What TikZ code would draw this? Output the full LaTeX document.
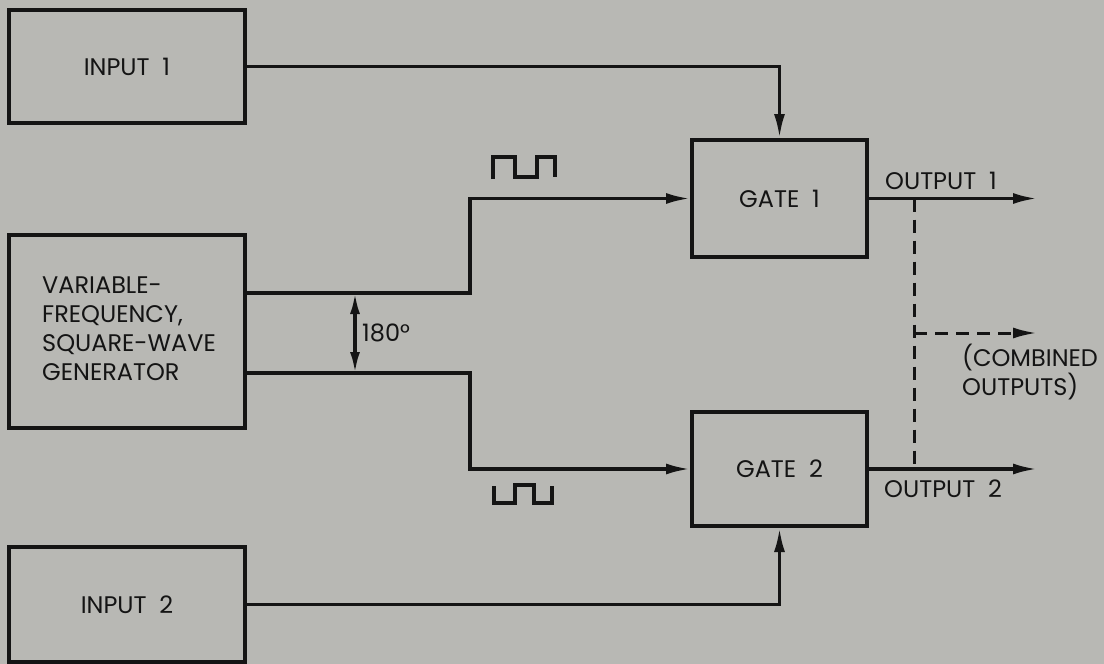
\documentclass[tikz,border=0pt]{standalone}
\usepackage{fontspec}
\setmainfont{Poppins}
\usetikzlibrary{arrows.meta}
\definecolor{bg}{RGB}{184,184,180}
\definecolor{ink}{RGB}{20,20,20}
\begin{document}
\begin{tikzpicture}[x=1pt,y=-1pt,
  box/.style={draw=ink,line width=4pt,rectangle,inner sep=0pt,font=\fontsize{24}{29}\selectfont,text=ink},
  conn/.style={draw=ink,line width=3.2pt},
  arr/.style={conn,-{Latex[length=24pt,width=11pt]}},
  lbl/.style={font=\fontsize{24}{29}\selectfont,text=ink,inner sep=0pt},
  dsh/.style={draw=ink,line width=3pt,dash pattern=on 13pt off 8pt}]
\fill[bg] (0,0) rectangle (1104,664);
\useasboundingbox (0,0) rectangle (1104,664);

\node[box,minimum width=236pt,minimum height=113pt] (in1) at (127,66.5) {INPUT\ \ 1};
\node[box,minimum width=236pt,minimum height=193pt] (gen) at (127,331.5) {};
\node[lbl,anchor=west,align=left] (gent) at (42,329)
  {VARIABLE-\\FREQUENCY,\\SQUARE-WAVE\\GENERATOR};
\node[box,minimum width=236pt,minimum height=115pt] (in2) at (127,604.5) {INPUT\ \ 2};
\node[box,minimum width=175pt,minimum height=117pt] (g1) at (779.5,198.5) {GATE\ \ 1};
\node[box,minimum width=175pt,minimum height=114pt] (g2) at (779.5,469) {GATE\ \ 2};

% input connectors
\draw[arr] (in1.east) -| (g1.north);
\draw[arr] (in2.east) -| (g2.south);

% generator outputs
\coordinate (gu) at (245,293);
\coordinate (gl) at (245,373);
\coordinate (ju) at (470,293);
\coordinate (jl) at (470,373);
\draw[arr] (gu) -- (ju) |- (g1.west);
\draw[arr] (gl) -- (jl) |- (g2.west);

% 180 degree arrow
\coordinate (pa) at (355,293);
\coordinate (pb) at (355,373);
\draw[conn,{Latex[length=21pt,width=10pt]}-{Latex[length=21pt,width=10pt]}] (pa) -- (pb);
\node[lbl,anchor=west] (deg) at (362,333) {180°};

% square-wave symbols
\draw[ink,line width=3.4pt,line join=miter] (493,179) -- (493,157) -- (515,157) -- (515,177) -- (537,177) -- (537,157) -- (555,157) -- (555,177);
\draw[ink,line width=3.4pt,line join=miter] (494,486) -- (494,503) -- (515,503) -- (515,485) -- (534,485) -- (534,503) -- (552,503) -- (552,486);

% outputs
\coordinate (o1) at (1037,198.5);
\coordinate (o2) at (1037,469);
\draw[arr] (g1.east) -- (o1);
\draw[arr] (g2.east) -- (o2);
\node[lbl] (lo1) at (941,181) {OUTPUT\ \ 1};
\node[lbl,anchor=west] (lo2) at (884,489) {OUTPUT\ \ 2};

% combined outputs
\coordinate (d1) at (914,198.5);
\coordinate (d2) at (914,469);
\coordinate (dm) at (914,333);
\coordinate (dc) at (1037,333);
\draw[dsh] (d1) -- (d2);
\draw[dsh,-{Latex[length=24pt,width=11pt]}] (dm) -- (dc);
\node[lbl,anchor=west,align=left] (lc) at (962,372) {(COMBINED\\OUTPUTS)};
\end{tikzpicture}
\end{document}
